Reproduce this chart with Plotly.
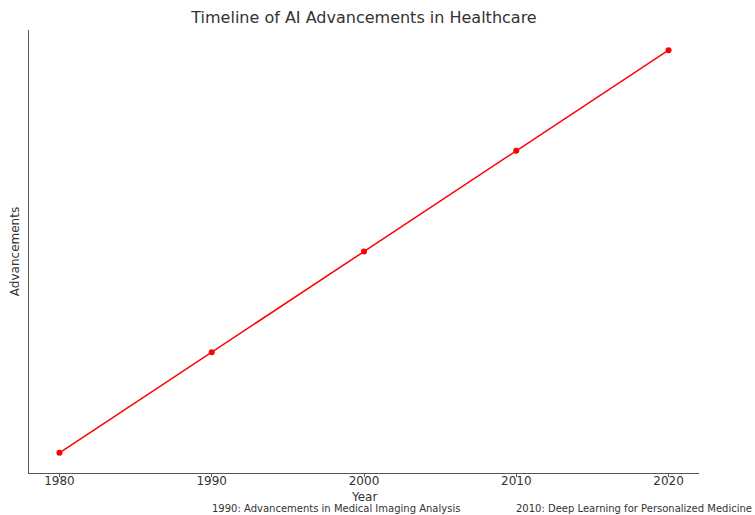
import plotly.graph_objects as go

years = [1980, 1990, 2000, 2010, 2020]
advancements = [1, 2, 3, 4, 5]
note_years = [1990, 2010]
note_texts = ["1990: Advancements in Medical Imaging Analysis",
              "2010: Deep Learning for Personalized Medicine"]

fig = go.Figure()
fig.add_trace(go.Scatter(
    x=years, y=advancements, mode="lines+markers",
    line=dict(color="red", width=1.5),
    marker=dict(color="red", size=6),
    showlegend=False,
))

for yr, txt in zip(note_years, note_texts):
    fig.add_annotation(x=yr, xref="x", y=-0.081, yref="paper",
                       text=txt, showarrow=False, xanchor="left", yanchor="middle",
                       xshift=-2,
                       font=dict(family="DejaVu Sans", size=10, color="#333"))

fig.add_annotation(x=0.5, xref="paper", y=-0.055, yref="paper", text="Year",
                   showarrow=False, xanchor="center", yanchor="middle",
                   font=dict(family="DejaVu Sans", size=12, color="#333"))

fig.update_layout(
    width=755, height=515,
    margin=dict(l=29, r=56, t=30, b=42, autoexpand=False),
    paper_bgcolor="white", plot_bgcolor="white",
    font=dict(family="DejaVu Sans", color="#333"),
    title=dict(text="Timeline of AI Advancements in Healthcare", x=0.5, xanchor="center",
               xref="paper", y=0.967, yanchor="middle", font=dict(size=16, color="#333")),
    xaxis=dict(range=[1978, 2022], tickvals=years, showgrid=False, zeroline=False,
               automargin=False,
               showline=True, linecolor="#555", linewidth=1,
               ticks="outside", ticklen=3, tickcolor="#555",
               ticklabelstandoff=-6,
               tickfont=dict(size=12, color="#333")),
    yaxis=dict(range=[0.8, 5.2], showticklabels=False, showgrid=False, zeroline=False,
               automargin=False,
               showline=True, linecolor="#555", linewidth=1, ticks="",
               title=dict(text="Advancements", font=dict(size=12, color="#333"), standoff=5)),
)

fig.write_html("out.html", config={"displayModeBar": False},
               post_script="document.body.style.margin='0';")
